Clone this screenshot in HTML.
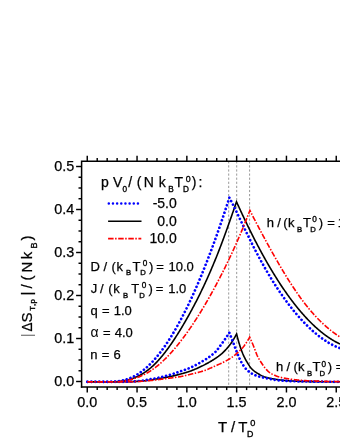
<!DOCTYPE html>
<html><head><meta charset="utf-8"><title>chart</title>
<style>
html,body{margin:0;padding:0;background:#fff;}
body{width:340px;height:440px;overflow:hidden;}
svg{display:block;}
.t{filter:grayscale(1);}
text{font-family:"Liberation Sans",sans-serif;fill:#000;stroke:#000;stroke-width:0.25px;}
.ss{stroke-width:0.35px;}
</style></head><body>
<svg width="340" height="440" viewBox="0 0 340 440">
<rect width="340" height="440" fill="#fff"/>
<!-- vertical guide lines -->
<g stroke="#777" stroke-width="0.75" stroke-dasharray="2.2 1.9" fill="none">
<line x1="228.7" y1="161.2" x2="228.7" y2="387.0"/>
<line x1="236.7" y1="161.2" x2="236.7" y2="387.0"/>
<line x1="249.6" y1="161.2" x2="249.6" y2="387.0"/>
</g>
<!-- curves -->
<g fill="none" stroke-linejoin="miter">
<path d="M87.4,381.80 L100.0,381.79 L100.5,381.80 L101.0,381.80 L101.5,381.80 L102.0,381.80 L102.5,381.80 L103.0,381.80 L103.5,381.80 L104.0,381.80 L104.5,381.80 L105.0,381.80 L105.5,381.80 L106.0,381.80 L106.5,381.80 L107.0,381.80 L107.5,381.80 L108.0,381.80 L108.5,381.80 L109.0,381.80 L109.5,381.80 L110.0,381.80 L110.5,381.80 L111.0,381.80 L111.5,381.80 L112.0,381.80 L112.5,381.80 L113.0,381.80 L113.5,381.80 L114.0,381.80 L114.5,381.80 L115.0,381.79 L115.5,381.76 L116.0,381.72 L116.5,381.68 L117.0,381.64 L117.5,381.60 L118.0,381.55 L118.5,381.50 L119.0,381.45 L119.5,381.39 L120.0,381.33 L120.5,381.27 L121.0,381.20 L121.5,381.13 L122.0,381.05 L122.5,380.97 L123.0,380.89 L123.5,380.80 L124.0,380.71 L124.5,380.61 L125.0,380.51 L125.5,380.41 L126.0,380.30 L126.5,380.19 L127.0,380.07 L127.5,379.95 L128.0,379.82 L128.5,379.69 L129.0,379.55 L129.5,379.41 L130.0,379.26 L130.5,379.11 L131.0,378.95 L131.5,378.79 L132.0,378.63 L132.5,378.45 L133.0,378.27 L133.5,378.09 L134.0,377.90 L134.5,377.71 L135.0,377.51 L135.5,377.30 L136.0,377.09 L136.5,376.87 L137.0,376.64 L137.5,376.41 L138.0,376.18 L138.5,375.93 L139.0,375.68 L139.5,375.43 L140.0,375.16 L140.5,374.89 L141.0,374.62 L141.5,374.34 L142.0,374.05 L142.5,373.75 L143.0,373.45 L143.5,373.14 L144.0,372.82 L144.5,372.49 L145.0,372.16 L145.5,371.82 L146.0,371.47 L146.5,371.12 L147.0,370.76 L147.5,370.39 L148.0,370.01 L148.5,369.63 L149.0,369.23 L149.5,368.83 L150.0,368.42 L150.5,368.01 L151.0,367.58 L151.5,367.15 L152.0,366.71 L152.5,366.25 L153.0,365.80 L153.5,365.33 L154.0,364.85 L154.5,364.37 L155.0,363.88 L155.5,363.38 L156.0,362.87 L156.5,362.35 L157.0,361.83 L157.5,361.29 L158.0,360.75 L158.5,360.21 L159.0,359.65 L159.5,359.09 L160.0,358.52 L160.5,357.94 L161.0,357.35 L161.5,356.76 L162.0,356.16 L162.5,355.55 L163.0,354.94 L163.5,354.31 L164.0,353.69 L164.5,353.05 L165.0,352.41 L165.5,351.76 L166.0,351.10 L166.5,350.44 L167.0,349.77 L167.5,349.09 L168.0,348.41 L168.5,347.72 L169.0,347.03 L169.5,346.33 L170.0,345.62 L170.5,344.91 L171.0,344.19 L171.5,343.46 L172.0,342.73 L172.5,341.99 L173.0,341.25 L173.5,340.50 L174.0,339.75 L174.5,338.99 L175.0,338.22 L175.5,337.45 L176.0,336.68 L176.5,335.90 L177.0,335.11 L177.5,334.32 L178.0,333.52 L178.5,332.72 L179.0,331.91 L179.5,331.10 L180.0,330.29 L180.5,329.47 L181.0,328.64 L181.5,327.81 L182.0,326.98 L182.5,326.14 L183.0,325.30 L183.5,324.45 L184.0,323.60 L184.5,322.74 L185.0,321.88 L185.5,321.02 L186.0,320.15 L186.5,319.27 L187.0,318.40 L187.5,317.51 L188.0,316.63 L188.5,315.74 L189.0,314.84 L189.5,313.94 L190.0,313.03 L190.5,312.12 L191.0,311.20 L191.5,310.28 L192.0,309.36 L192.5,308.43 L193.0,307.49 L193.5,306.55 L194.0,305.60 L194.5,304.65 L195.0,303.69 L195.5,302.73 L196.0,301.76 L196.5,300.79 L197.0,299.81 L197.5,298.82 L198.0,297.83 L198.5,296.83 L199.0,295.83 L199.5,294.82 L200.0,293.81 L200.5,292.79 L201.0,291.76 L201.5,290.73 L202.0,289.69 L202.5,288.65 L203.0,287.60 L203.5,286.54 L204.0,285.48 L204.5,284.41 L205.0,283.33 L205.5,282.25 L206.0,281.16 L206.5,280.07 L207.0,278.96 L207.5,277.85 L208.0,276.74 L208.5,275.62 L209.0,274.49 L209.5,273.35 L210.0,272.21 L210.5,271.06 L211.0,269.90 L211.5,268.74 L212.0,267.56 L212.5,266.39 L213.0,265.20 L213.5,264.01 L214.0,262.81 L214.5,261.60 L215.0,260.38 L215.5,259.16 L216.0,257.93 L216.5,256.69 L217.0,255.44 L217.5,254.19 L218.0,252.93 L218.5,251.66 L219.0,250.38 L219.5,249.10 L220.0,247.80 L220.5,246.50 L221.0,245.19 L221.5,243.87 L222.0,242.55 L222.5,241.22 L223.0,239.88 L223.5,238.53 L224.0,237.17 L224.5,235.81 L225.0,234.45 L225.5,233.07 L226.0,231.69 L226.5,230.31 L227.0,228.92 L227.5,227.52 L228.0,226.12 L228.5,224.72 L229.0,223.31 L229.5,221.89 L230.0,220.47 L230.5,219.05 L231.0,217.63 L231.5,216.20 L232.0,214.77 L232.5,213.34 L233.0,211.90 L233.5,210.46 L234.0,209.02 L234.5,207.58 L235.0,206.13 L235.5,204.69 L236.0,203.24 L236.5,201.80 L237.0,202.90 L237.5,204.00 L238.0,205.09 L238.5,206.18 L239.0,207.27 L239.5,208.36 L240.0,209.44 L240.5,210.52 L241.0,211.60 L241.5,212.67 L242.0,213.74 L242.5,214.81 L243.0,215.87 L243.5,216.93 L244.0,217.99 L244.5,219.04 L245.0,220.09 L245.5,221.14 L246.0,222.18 L246.5,223.22 L247.0,224.25 L247.5,225.28 L248.0,226.31 L248.5,227.33 L249.0,228.35 L249.5,229.37 L250.0,230.38 L250.5,231.39 L251.0,232.40 L251.5,233.40 L252.0,234.39 L252.5,235.39 L253.0,236.38 L253.5,237.36 L254.0,238.34 L254.5,239.32 L255.0,240.29 L255.5,241.26 L256.0,242.23 L256.5,243.19 L257.0,244.15 L257.5,245.10 L258.0,246.05 L258.5,246.99 L259.0,247.93 L259.5,248.87 L260.0,249.80 L260.5,250.73 L261.0,251.65 L261.5,252.58 L262.0,253.49 L262.5,254.40 L263.0,255.31 L263.5,256.21 L264.0,257.11 L264.5,258.01 L265.0,258.90 L265.5,259.79 L266.0,260.67 L266.5,261.55 L267.0,262.42 L267.5,263.29 L268.0,264.16 L268.5,265.02 L269.0,265.88 L269.5,266.73 L270.0,267.58 L270.5,268.43 L271.0,269.27 L271.5,270.11 L272.0,270.94 L272.5,271.77 L273.0,272.59 L273.5,273.41 L274.0,274.23 L274.5,275.04 L275.0,275.85 L275.5,276.65 L276.0,277.45 L276.5,278.24 L277.0,279.03 L277.5,279.82 L278.0,280.60 L278.5,281.38 L279.0,282.15 L279.5,282.92 L280.0,283.69 L280.5,284.45 L281.0,285.21 L281.5,285.96 L282.0,286.71 L282.5,287.45 L283.0,288.19 L283.5,288.93 L284.0,289.66 L284.5,290.39 L285.0,291.11 L285.5,291.83 L286.0,292.54 L286.5,293.26 L287.0,293.96 L287.5,294.66 L288.0,295.36 L288.5,296.05 L289.0,296.74 L289.5,297.43 L290.0,298.11 L290.5,298.78 L291.0,299.46 L291.5,300.12 L292.0,300.79 L292.5,301.45 L293.0,302.10 L293.5,302.75 L294.0,303.40 L294.5,304.04 L295.0,304.67 L295.5,305.31 L296.0,305.94 L296.5,306.56 L297.0,307.18 L297.5,307.80 L298.0,308.41 L298.5,309.01 L299.0,309.62 L299.5,310.22 L300.0,310.81 L300.5,311.40 L301.0,311.98 L301.5,312.57 L302.0,313.14 L302.5,313.71 L303.0,314.28 L303.5,314.84 L304.0,315.40 L304.5,315.96 L305.0,316.51 L305.5,317.05 L306.0,317.60 L306.5,318.13 L307.0,318.66 L307.5,319.19 L308.0,319.72 L308.5,320.24 L309.0,320.75 L309.5,321.26 L310.0,321.77 L310.5,322.27 L311.0,322.77 L311.5,323.26 L312.0,323.75 L312.5,324.23 L313.0,324.71 L313.5,325.19 L314.0,325.66 L314.5,326.12 L315.0,326.59 L315.5,327.04 L316.0,327.50 L316.5,327.95 L317.0,328.39 L317.5,328.83 L318.0,329.26 L318.5,329.70 L319.0,330.12 L319.5,330.54 L320.0,330.96 L320.5,331.38 L321.0,331.78 L321.5,332.19 L322.0,332.59 L322.5,332.98 L323.0,333.38 L323.5,333.76 L324.0,334.15 L324.5,334.52 L325.0,334.90 L325.5,335.27 L326.0,335.63 L326.5,335.99 L327.0,336.35 L327.5,336.70 L328.0,337.05 L328.5,337.39 L329.0,337.73 L329.5,338.06 L330.0,338.39 L330.5,338.72 L331.0,339.04 L331.5,339.35 L332.0,339.67 L332.5,339.97 L333.0,340.28 L333.5,340.58 L334.0,340.87 L334.5,341.16 L335.0,341.45 L335.5,341.73 L336.0,342.01 L336.5,342.28 L337.0,342.55 L337.5,342.81 L338.0,343.07 L338.5,343.32 L339.0,343.58 L339.5,343.82 L340.0,344.06" stroke="#000" stroke-width="1.6"/>
<path d="M87.4,381.80 L87.9,381.80 L88.4,381.80 L88.9,381.80 L89.4,381.80 L89.9,381.80 L90.4,381.80 L90.9,381.80 L91.4,381.80 L91.9,381.80 L92.4,381.80 L92.9,381.80 L93.4,381.80 L93.9,381.80 L94.4,381.80 L94.9,381.80 L95.4,381.80 L95.9,381.80 L96.4,381.80 L96.9,381.80 L97.4,381.80 L97.9,381.80 L98.4,381.80 L98.9,381.80 L99.4,381.80 L99.9,381.80 L100.4,381.80 L100.9,381.80 L101.4,381.80 L101.9,381.80 L102.4,381.80 L102.9,381.80 L103.4,381.80 L103.9,381.80 L104.4,381.80 L104.9,381.80 L105.4,381.80 L105.9,381.80 L106.4,381.80 L106.9,381.80 L107.4,381.80 L107.9,381.80 L108.4,381.80 L108.9,381.80 L109.4,381.80 L109.9,381.80 L110.4,381.80 L110.9,381.80 L111.4,381.80 L111.9,381.80 L112.4,381.80 L112.9,381.80 L113.4,381.80 L113.9,381.80 L114.4,381.80 L114.9,381.80 L115.4,381.80 L115.9,381.80 L116.4,381.80 L116.9,381.80 L117.4,381.80 L117.9,381.80 L118.4,381.80 L118.9,381.80 L119.4,381.80 L119.9,381.80 L120.4,381.80 L120.9,381.80 L121.4,381.80 L121.9,381.80 L122.4,381.79 L122.9,381.79 L123.4,381.79 L123.9,381.78 L124.4,381.78 L124.9,381.77 L125.4,381.77 L125.9,381.76 L126.4,381.75 L126.9,381.75 L127.4,381.74 L127.9,381.73 L128.4,381.73 L128.9,381.72 L129.4,381.71 L129.9,381.70 L130.4,381.69 L130.9,381.68 L131.4,381.67 L131.9,381.65 L132.4,381.63 L132.9,381.61 L133.4,381.59 L133.9,381.57 L134.4,381.55 L134.9,381.52 L135.4,381.49 L135.9,381.46 L136.4,381.44 L136.9,381.40 L137.4,381.37 L137.9,381.34 L138.4,381.31 L138.9,381.27 L139.4,381.24 L139.9,381.21 L140.4,381.17 L140.9,381.13 L141.4,381.09 L141.9,381.05 L142.4,381.00 L142.9,380.96 L143.4,380.91 L143.9,380.85 L144.4,380.80 L144.9,380.74 L145.4,380.68 L145.9,380.63 L146.4,380.56 L146.9,380.50 L147.4,380.44 L147.9,380.38 L148.4,380.31 L148.9,380.25 L149.4,380.18 L149.9,380.11 L150.4,380.05 L150.9,379.97 L151.4,379.90 L151.9,379.82 L152.4,379.74 L152.9,379.66 L153.4,379.58 L153.9,379.49 L154.4,379.41 L154.9,379.32 L155.4,379.23 L155.9,379.14 L156.4,379.05 L156.9,378.96 L157.4,378.87 L157.9,378.78 L158.4,378.69 L158.9,378.60 L159.4,378.51 L159.9,378.42 L160.4,378.33 L160.9,378.24 L161.4,378.16 L161.9,378.07 L162.4,377.99 L162.9,377.90 L163.4,377.82 L163.9,377.73 L164.4,377.64 L164.9,377.56 L165.4,377.47 L165.9,377.38 L166.4,377.29 L166.9,377.20 L167.4,377.11 L167.9,377.01 L168.4,376.92 L168.9,376.82 L169.4,376.72 L169.9,376.62 L170.4,376.52 L170.9,376.41 L171.4,376.30 L171.9,376.19 L172.4,376.08 L172.9,375.97 L173.4,375.86 L173.9,375.74 L174.4,375.62 L174.9,375.50 L175.4,375.38 L175.9,375.26 L176.4,375.13 L176.9,375.01 L177.4,374.88 L177.9,374.75 L178.4,374.62 L178.9,374.49 L179.4,374.36 L179.9,374.23 L180.4,374.09 L180.9,373.96 L181.4,373.82 L181.9,373.69 L182.4,373.55 L182.9,373.41 L183.4,373.27 L183.9,373.13 L184.4,372.98 L184.9,372.84 L185.4,372.69 L185.9,372.54 L186.4,372.38 L186.9,372.23 L187.4,372.07 L187.9,371.91 L188.4,371.75 L188.9,371.58 L189.4,371.41 L189.9,371.24 L190.4,371.06 L190.9,370.88 L191.4,370.69 L191.9,370.50 L192.4,370.31 L192.9,370.11 L193.4,369.92 L193.9,369.71 L194.4,369.51 L194.9,369.30 L195.4,369.08 L195.9,368.87 L196.4,368.65 L196.9,368.43 L197.4,368.21 L197.9,367.98 L198.4,367.75 L198.9,367.52 L199.4,367.29 L199.9,367.05 L200.4,366.82 L200.9,366.58 L201.4,366.34 L201.9,366.09 L202.4,365.85 L202.9,365.60 L203.4,365.35 L203.9,365.10 L204.4,364.85 L204.9,364.59 L205.4,364.33 L205.9,364.07 L206.4,363.80 L206.9,363.53 L207.4,363.26 L207.9,362.99 L208.4,362.71 L208.9,362.42 L209.4,362.14 L209.9,361.85 L210.4,361.56 L210.9,361.26 L211.4,360.96 L211.9,360.66 L212.4,360.35 L212.9,360.04 L213.4,359.73 L213.9,359.41 L214.4,359.09 L214.9,358.77 L215.4,358.44 L215.9,358.10 L216.4,357.76 L216.9,357.42 L217.4,357.07 L217.9,356.71 L218.4,356.35 L218.9,355.97 L219.4,355.59 L219.9,355.20 L220.4,354.80 L220.9,354.40 L221.4,353.98 L221.9,353.54 L222.4,353.10 L222.9,352.64 L223.4,352.17 L223.9,351.68 L224.4,351.18 L224.9,350.66 L225.4,350.13 L225.9,349.58 L226.4,349.03 L226.9,348.45 L227.4,347.87 L227.9,347.27 L228.4,346.66 L228.9,346.04 L229.4,345.41 L229.9,344.77 L230.4,344.11 L230.9,343.41 L231.4,342.70 L231.9,341.96 L232.4,341.20 L232.9,340.41 L233.4,339.61 L233.9,338.80 L234.4,337.96 L234.9,337.09 L235.4,336.19 L235.9,335.25 L236.4,334.29 L236.6,333.90 L237.1,335.91 L237.6,337.85 L238.1,339.72 L238.6,341.52 L239.1,343.22 L239.6,344.83 L240.1,346.39 L240.6,347.89 L241.1,349.34 L241.6,350.73 L242.1,352.06 L242.6,353.32 L243.1,354.50 L243.6,355.62 L244.1,356.69 L244.6,357.70 L245.1,358.68 L245.6,359.61 L246.1,360.51 L246.6,361.36 L247.1,362.20 L247.6,363.02 L248.1,363.83 L248.6,364.63 L249.1,365.40 L249.6,366.14 L250.1,366.84 L250.6,367.51 L251.1,368.12 L251.6,368.69 L252.1,369.20 L252.6,369.68 L253.1,370.13 L253.6,370.56 L254.1,370.97 L254.6,371.36 L255.1,371.73 L255.6,372.08 L256.1,372.42 L256.6,372.75 L257.1,373.07 L257.6,373.38 L258.1,373.68 L258.6,373.98 L259.1,374.27 L259.6,374.56 L260.1,374.84 L260.6,375.12 L261.1,375.38 L261.6,375.64 L262.1,375.88 L262.6,376.11 L263.1,376.33 L263.6,376.54 L264.1,376.73 L264.6,376.90 L265.1,377.06 L265.6,377.21 L266.1,377.35 L266.6,377.49 L267.1,377.63 L267.6,377.76 L268.1,377.88 L268.6,378.00 L269.1,378.11 L269.6,378.22 L270.1,378.33 L270.6,378.43 L271.1,378.53 L271.6,378.63 L272.1,378.72 L272.6,378.81 L273.1,378.89 L273.6,378.98 L274.1,379.06 L274.6,379.14 L275.1,379.22 L275.6,379.29 L276.1,379.37 L276.6,379.44 L277.1,379.51 L277.6,379.59 L278.1,379.66 L278.6,379.73 L279.1,379.80 L279.6,379.86 L280.1,379.93 L280.6,380.00 L281.1,380.06 L281.6,380.12 L282.1,380.18 L282.6,380.24 L283.1,380.30 L283.6,380.36 L284.1,380.41 L284.6,380.47 L285.1,380.52 L285.6,380.57 L286.1,380.61 L286.6,380.66 L287.1,380.70 L287.6,380.74 L288.1,380.78 L288.6,380.81 L289.1,380.85 L289.6,380.88 L290.1,380.91 L290.6,380.93 L291.1,380.96 L291.6,380.99 L292.1,381.01 L292.6,381.04 L293.1,381.06 L293.6,381.09 L294.1,381.11 L294.6,381.13 L295.1,381.16 L295.6,381.18 L296.1,381.20 L296.6,381.22 L297.1,381.25 L297.6,381.27 L298.1,381.29 L298.6,381.31 L299.1,381.33 L299.6,381.34 L300.1,381.36 L300.6,381.38 L301.1,381.40 L301.6,381.41 L302.1,381.43 L302.6,381.45 L303.1,381.46 L303.6,381.47 L304.1,381.49 L304.6,381.50 L305.1,381.51 L305.6,381.52 L306.1,381.54 L306.6,381.55 L307.1,381.56 L307.6,381.57 L308.1,381.57 L308.6,381.58 L309.1,381.59 L309.6,381.60 L310.1,381.60 L310.6,381.61 L311.1,381.61 L311.6,381.62 L312.1,381.62 L312.6,381.63 L313.1,381.63 L313.6,381.64 L314.1,381.64 L314.6,381.65 L315.1,381.65 L315.6,381.66 L316.1,381.66 L316.6,381.67 L317.1,381.67 L317.6,381.68 L318.1,381.68 L318.6,381.69 L319.1,381.69 L319.6,381.70 L320.1,381.70 L320.6,381.70 L321.1,381.71 L321.6,381.71 L322.1,381.72 L322.6,381.72 L323.1,381.72 L323.6,381.73 L324.1,381.73 L324.6,381.74 L325.1,381.74 L325.6,381.74 L326.1,381.75 L326.6,381.75 L327.1,381.75 L327.6,381.75 L328.1,381.76 L328.6,381.76 L329.1,381.76 L329.6,381.77 L330.1,381.77 L330.6,381.77 L331.1,381.77 L331.6,381.78 L332.1,381.78 L332.6,381.78 L333.1,381.78 L333.6,381.78 L334.1,381.79 L334.6,381.79 L335.1,381.79 L335.6,381.79 L336.1,381.79 L336.6,381.79 L337.1,381.79 L337.6,381.80 L338.1,381.80 L338.6,381.80 L339.1,381.80 L339.6,381.80 L340.1,381.80 L340.6,381.80 L341.1,381.80 L341.6,381.80 L342.0,381.80" stroke="#000" stroke-width="1.6"/>
<path d="M87.4,381.80 L100.0,381.76 L100.5,381.79 L101.0,381.80 L101.5,381.80 L102.0,381.80 L102.5,381.80 L103.0,381.80 L103.5,381.80 L104.0,381.80 L104.5,381.80 L105.0,381.80 L105.5,381.80 L106.0,381.80 L106.5,381.80 L107.0,381.80 L107.5,381.80 L108.0,381.80 L108.5,381.80 L109.0,381.80 L109.5,381.80 L110.0,381.80 L110.5,381.80 L111.0,381.80 L111.5,381.80 L112.0,381.80 L112.5,381.80 L113.0,381.80 L113.5,381.80 L114.0,381.79 L114.5,381.75 L115.0,381.71 L115.5,381.66 L116.0,381.61 L116.5,381.55 L117.0,381.49 L117.5,381.43 L118.0,381.36 L118.5,381.29 L119.0,381.21 L119.5,381.13 L120.0,381.04 L120.5,380.95 L121.0,380.86 L121.5,380.76 L122.0,380.65 L122.5,380.54 L123.0,380.42 L123.5,380.30 L124.0,380.17 L124.5,380.04 L125.0,379.90 L125.5,379.75 L126.0,379.60 L126.5,379.44 L127.0,379.28 L127.5,379.11 L128.0,378.94 L128.5,378.75 L129.0,378.56 L129.5,378.37 L130.0,378.17 L130.5,377.96 L131.0,377.74 L131.5,377.52 L132.0,377.29 L132.5,377.06 L133.0,376.81 L133.5,376.56 L134.0,376.31 L134.5,376.04 L135.0,375.77 L135.5,375.49 L136.0,375.21 L136.5,374.92 L137.0,374.62 L137.5,374.31 L138.0,374.00 L138.5,373.67 L139.0,373.35 L139.5,373.01 L140.0,372.67 L140.5,372.32 L141.0,371.96 L141.5,371.59 L142.0,371.22 L142.5,370.84 L143.0,370.45 L143.5,370.05 L144.0,369.65 L144.5,369.24 L145.0,368.82 L145.5,368.39 L146.0,367.96 L146.5,367.52 L147.0,367.07 L147.5,366.61 L148.0,366.15 L148.5,365.67 L149.0,365.19 L149.5,364.71 L150.0,364.21 L150.5,363.71 L151.0,363.20 L151.5,362.68 L152.0,362.16 L152.5,361.62 L153.0,361.08 L153.5,360.54 L154.0,359.98 L154.5,359.42 L155.0,358.85 L155.5,358.27 L156.0,357.69 L156.5,357.09 L157.0,356.49 L157.5,355.89 L158.0,355.27 L158.5,354.65 L159.0,354.02 L159.5,353.39 L160.0,352.74 L160.5,352.09 L161.0,351.43 L161.5,350.77 L162.0,350.10 L162.5,349.42 L163.0,348.73 L163.5,348.03 L164.0,347.33 L164.5,346.62 L165.0,345.91 L165.5,345.18 L166.0,344.45 L166.5,343.72 L167.0,342.97 L167.5,342.22 L168.0,341.46 L168.5,340.70 L169.0,339.92 L169.5,339.14 L170.0,338.36 L170.5,337.56 L171.0,336.76 L171.5,335.95 L172.0,335.14 L172.5,334.31 L173.0,333.49 L173.5,332.65 L174.0,331.81 L174.5,330.96 L175.0,330.10 L175.5,329.24 L176.0,328.36 L176.5,327.49 L177.0,326.60 L177.5,325.71 L178.0,324.81 L178.5,323.91 L179.0,323.00 L179.5,322.08 L180.0,321.15 L180.5,320.22 L181.0,319.28 L181.5,318.33 L182.0,317.38 L182.5,316.42 L183.0,315.46 L183.5,314.48 L184.0,313.50 L184.5,312.52 L185.0,311.52 L185.5,310.52 L186.0,309.52 L186.5,308.50 L187.0,307.48 L187.5,306.46 L188.0,305.42 L188.5,304.38 L189.0,303.34 L189.5,302.28 L190.0,301.22 L190.5,300.16 L191.0,299.09 L191.5,298.01 L192.0,296.92 L192.5,295.83 L193.0,294.73 L193.5,293.62 L194.0,292.51 L194.5,291.39 L195.0,290.27 L195.5,289.13 L196.0,287.99 L196.5,286.85 L197.0,285.70 L197.5,284.54 L198.0,283.38 L198.5,282.20 L199.0,281.03 L199.5,279.84 L200.0,278.65 L200.5,277.46 L201.0,276.25 L201.5,275.04 L202.0,273.83 L202.5,272.60 L203.0,271.37 L203.5,270.14 L204.0,268.90 L204.5,267.65 L205.0,266.39 L205.5,265.13 L206.0,263.87 L206.5,262.59 L207.0,261.31 L207.5,260.03 L208.0,258.73 L208.5,257.43 L209.0,256.13 L209.5,254.82 L210.0,253.50 L210.5,252.18 L211.0,250.84 L211.5,249.51 L212.0,248.17 L212.5,246.82 L213.0,245.46 L213.5,244.10 L214.0,242.73 L214.5,241.36 L215.0,239.98 L215.5,238.59 L216.0,237.20 L216.5,235.80 L217.0,234.39 L217.5,232.98 L218.0,231.57 L218.5,230.14 L219.0,228.71 L219.5,227.28 L220.0,225.83 L220.5,224.39 L221.0,222.93 L221.5,221.47 L222.0,220.01 L222.5,218.53 L223.0,217.06 L223.5,215.57 L224.0,214.08 L224.5,212.58 L225.0,211.08 L225.5,209.57 L226.0,208.06 L226.5,206.54 L227.0,205.01 L227.5,203.48 L228.0,201.94 L228.5,200.39 L229.0,198.84 L229.4,197.60 L229.9,198.56 L230.4,199.53 L230.9,200.50 L231.4,201.49 L231.9,202.48 L232.4,203.48 L232.9,204.48 L233.4,205.49 L233.9,206.50 L234.4,207.52 L234.9,208.54 L235.4,209.57 L235.9,210.60 L236.4,211.63 L236.9,212.67 L237.4,213.70 L237.9,214.74 L238.4,215.78 L238.9,216.83 L239.4,217.87 L239.9,218.91 L240.4,219.95 L240.9,221.00 L241.4,222.04 L241.9,223.08 L242.4,224.13 L242.9,225.17 L243.4,226.21 L243.9,227.25 L244.4,228.29 L244.9,229.32 L245.4,230.36 L245.9,231.39 L246.4,232.42 L246.9,233.44 L247.4,234.47 L247.9,235.49 L248.4,236.51 L248.9,237.53 L249.4,238.54 L249.9,239.55 L250.4,240.55 L250.9,241.56 L251.4,242.55 L251.9,243.55 L252.4,244.54 L252.9,245.53 L253.4,246.51 L253.9,247.49 L254.4,248.47 L254.9,249.44 L255.4,250.41 L255.9,251.37 L256.4,252.33 L256.9,253.28 L257.4,254.23 L257.9,255.18 L258.4,256.12 L258.9,257.05 L259.4,257.99 L259.9,258.91 L260.4,259.83 L260.9,260.75 L261.4,261.66 L261.9,262.57 L262.4,263.48 L262.9,264.37 L263.4,265.27 L263.9,266.16 L264.4,267.04 L264.9,267.92 L265.4,268.80 L265.9,269.67 L266.4,270.53 L266.9,271.39 L267.4,272.25 L267.9,273.10 L268.4,273.94 L268.9,274.78 L269.4,275.62 L269.9,276.45 L270.4,277.28 L270.9,278.10 L271.4,278.92 L271.9,279.73 L272.4,280.54 L272.9,281.34 L273.4,282.14 L273.9,282.93 L274.4,283.72 L274.9,284.51 L275.4,285.29 L275.9,286.06 L276.4,286.83 L276.9,287.60 L277.4,288.36 L277.9,289.11 L278.4,289.87 L278.9,290.61 L279.4,291.36 L279.9,292.09 L280.4,292.83 L280.9,293.56 L281.4,294.28 L281.9,295.00 L282.4,295.72 L282.9,296.43 L283.4,297.13 L283.9,297.84 L284.4,298.53 L284.9,299.23 L285.4,299.92 L285.9,300.60 L286.4,301.28 L286.9,301.96 L287.4,302.63 L287.9,303.29 L288.4,303.96 L288.9,304.61 L289.4,305.27 L289.9,305.92 L290.4,306.56 L290.9,307.20 L291.4,307.84 L291.9,308.47 L292.4,309.10 L292.9,309.72 L293.4,310.34 L293.9,310.95 L294.4,311.56 L294.9,312.17 L295.4,312.77 L295.9,313.37 L296.4,313.96 L296.9,314.55 L297.4,315.13 L297.9,315.71 L298.4,316.29 L298.9,316.86 L299.4,317.43 L299.9,317.99 L300.4,318.55 L300.9,319.10 L301.4,319.65 L301.9,320.19 L302.4,320.73 L302.9,321.27 L303.4,321.80 L303.9,322.33 L304.4,322.85 L304.9,323.37 L305.4,323.89 L305.9,324.40 L306.4,324.90 L306.9,325.40 L307.4,325.90 L307.9,326.39 L308.4,326.88 L308.9,327.36 L309.4,327.84 L309.9,328.31 L310.4,328.78 L310.9,329.25 L311.4,329.71 L311.9,330.17 L312.4,330.62 L312.9,331.07 L313.4,331.51 L313.9,331.95 L314.4,332.38 L314.9,332.81 L315.4,333.23 L315.9,333.65 L316.4,334.07 L316.9,334.48 L317.4,334.88 L317.9,335.29 L318.4,335.68 L318.9,336.08 L319.4,336.46 L319.9,336.85 L320.4,337.22 L320.9,337.60 L321.4,337.97 L321.9,338.33 L322.4,338.69 L322.9,339.04 L323.4,339.39 L323.9,339.74 L324.4,340.08 L324.9,340.41 L325.4,340.74 L325.9,341.07 L326.4,341.39 L326.9,341.71 L327.4,342.02 L327.9,342.32 L328.4,342.62 L328.9,342.92 L329.4,343.21 L329.9,343.50 L330.4,343.78 L330.9,344.06 L331.4,344.33 L331.9,344.59 L332.4,344.85 L332.9,345.11 L333.4,345.36 L333.9,345.61 L334.4,345.85 L334.9,346.08 L335.4,346.32 L335.9,346.54 L336.4,346.76 L336.9,346.98 L337.4,347.19 L337.9,347.39 L338.4,347.59 L338.9,347.78 L339.4,347.97 L339.9,348.15 L340.0,348.19" stroke="#0000ff" stroke-width="2.7" stroke-dasharray="0.01 3.95" stroke-linecap="round"/>
<path d="M87.4,381.80 L87.9,381.80 L88.4,381.80 L88.9,381.80 L89.4,381.80 L89.9,381.80 L90.4,381.80 L90.9,381.80 L91.4,381.80 L91.9,381.80 L92.4,381.80 L92.9,381.80 L93.4,381.80 L93.9,381.80 L94.4,381.80 L94.9,381.80 L95.4,381.80 L95.9,381.80 L96.4,381.80 L96.9,381.80 L97.4,381.80 L97.9,381.80 L98.4,381.80 L98.9,381.80 L99.4,381.80 L99.9,381.80 L100.4,381.80 L100.9,381.80 L101.4,381.80 L101.9,381.80 L102.4,381.80 L102.9,381.80 L103.4,381.80 L103.9,381.80 L104.4,381.80 L104.9,381.80 L105.4,381.80 L105.9,381.80 L106.4,381.80 L106.9,381.80 L107.4,381.80 L107.9,381.80 L108.4,381.80 L108.9,381.80 L109.4,381.80 L109.9,381.80 L110.4,381.80 L110.9,381.80 L111.4,381.80 L111.9,381.80 L112.4,381.80 L112.9,381.80 L113.4,381.80 L113.9,381.80 L114.4,381.80 L114.9,381.80 L115.4,381.80 L115.9,381.80 L116.4,381.80 L116.9,381.80 L117.4,381.80 L117.9,381.80 L118.4,381.80 L118.9,381.80 L119.4,381.80 L119.9,381.80 L120.4,381.80 L120.9,381.80 L121.4,381.79 L121.9,381.79 L122.4,381.78 L122.9,381.78 L123.4,381.77 L123.9,381.76 L124.4,381.75 L124.9,381.74 L125.4,381.73 L125.9,381.72 L126.4,381.70 L126.9,381.69 L127.4,381.68 L127.9,381.66 L128.4,381.65 L128.9,381.63 L129.4,381.62 L129.9,381.60 L130.4,381.59 L130.9,381.57 L131.4,381.55 L131.9,381.52 L132.4,381.50 L132.9,381.47 L133.4,381.44 L133.9,381.41 L134.4,381.38 L134.9,381.34 L135.4,381.30 L135.9,381.26 L136.4,381.22 L136.9,381.18 L137.4,381.14 L137.9,381.10 L138.4,381.05 L138.9,381.01 L139.4,380.96 L139.9,380.91 L140.4,380.86 L140.9,380.80 L141.4,380.74 L141.9,380.68 L142.4,380.61 L142.9,380.54 L143.4,380.46 L143.9,380.38 L144.4,380.30 L144.9,380.21 L145.4,380.13 L145.9,380.04 L146.4,379.95 L146.9,379.86 L147.4,379.77 L147.9,379.68 L148.4,379.58 L148.9,379.49 L149.4,379.41 L149.9,379.32 L150.4,379.23 L150.9,379.14 L151.4,379.06 L151.9,378.97 L152.4,378.88 L152.9,378.79 L153.4,378.70 L153.9,378.61 L154.4,378.52 L154.9,378.43 L155.4,378.33 L155.9,378.24 L156.4,378.14 L156.9,378.04 L157.4,377.94 L157.9,377.84 L158.4,377.74 L158.9,377.64 L159.4,377.53 L159.9,377.42 L160.4,377.31 L160.9,377.20 L161.4,377.08 L161.9,376.97 L162.4,376.85 L162.9,376.72 L163.4,376.60 L163.9,376.47 L164.4,376.35 L164.9,376.22 L165.4,376.08 L165.9,375.95 L166.4,375.82 L166.9,375.68 L167.4,375.54 L167.9,375.40 L168.4,375.26 L168.9,375.12 L169.4,374.97 L169.9,374.83 L170.4,374.68 L170.9,374.53 L171.4,374.38 L171.9,374.23 L172.4,374.07 L172.9,373.91 L173.4,373.75 L173.9,373.59 L174.4,373.42 L174.9,373.26 L175.4,373.09 L175.9,372.92 L176.4,372.75 L176.9,372.58 L177.4,372.40 L177.9,372.23 L178.4,372.06 L178.9,371.88 L179.4,371.71 L179.9,371.53 L180.4,371.36 L180.9,371.19 L181.4,371.01 L181.9,370.84 L182.4,370.67 L182.9,370.49 L183.4,370.32 L183.9,370.14 L184.4,369.97 L184.9,369.79 L185.4,369.61 L185.9,369.43 L186.4,369.24 L186.9,369.05 L187.4,368.86 L187.9,368.66 L188.4,368.47 L188.9,368.26 L189.4,368.06 L189.9,367.84 L190.4,367.63 L190.9,367.41 L191.4,367.18 L191.9,366.95 L192.4,366.72 L192.9,366.48 L193.4,366.24 L193.9,366.00 L194.4,365.75 L194.9,365.50 L195.4,365.24 L195.9,364.98 L196.4,364.72 L196.9,364.45 L197.4,364.18 L197.9,363.91 L198.4,363.63 L198.9,363.35 L199.4,363.07 L199.9,362.78 L200.4,362.50 L200.9,362.20 L201.4,361.91 L201.9,361.61 L202.4,361.31 L202.9,361.01 L203.4,360.71 L203.9,360.40 L204.4,360.10 L204.9,359.79 L205.4,359.48 L205.9,359.17 L206.4,358.85 L206.9,358.53 L207.4,358.21 L207.9,357.88 L208.4,357.54 L208.9,357.20 L209.4,356.85 L209.9,356.50 L210.4,356.13 L210.9,355.76 L211.4,355.37 L211.9,354.98 L212.4,354.58 L212.9,354.17 L213.4,353.74 L213.9,353.31 L214.4,352.86 L214.9,352.39 L215.4,351.91 L215.9,351.38 L216.4,350.82 L216.9,350.22 L217.4,349.60 L217.9,348.96 L218.4,348.29 L218.9,347.61 L219.4,346.92 L219.9,346.23 L220.4,345.54 L220.9,344.85 L221.4,344.17 L221.9,343.50 L222.4,342.82 L222.9,342.14 L223.4,341.45 L223.9,340.75 L224.4,340.05 L224.9,339.34 L225.4,338.62 L225.9,337.89 L226.4,337.16 L226.9,336.41 L227.4,335.66 L227.9,334.89 L228.4,334.12 L228.9,333.33 L229.3,332.70 L229.8,333.92 L230.3,335.16 L230.8,336.40 L231.3,337.65 L231.8,338.91 L232.3,340.18 L232.8,341.46 L233.3,342.77 L233.8,344.11 L234.3,345.48 L234.8,346.85 L235.3,348.21 L235.8,349.55 L236.3,350.86 L236.8,352.13 L237.3,353.34 L237.8,354.53 L238.3,355.70 L238.8,356.87 L239.3,358.00 L239.8,359.10 L240.3,360.15 L240.8,361.15 L241.3,362.08 L241.8,362.94 L242.3,363.77 L242.8,364.58 L243.3,365.36 L243.8,366.11 L244.3,366.83 L244.8,367.52 L245.3,368.16 L245.8,368.75 L246.3,369.30 L246.8,369.80 L247.3,370.26 L247.8,370.70 L248.3,371.12 L248.8,371.52 L249.3,371.90 L249.8,372.27 L250.3,372.61 L250.8,372.94 L251.3,373.26 L251.8,373.55 L252.3,373.83 L252.8,374.10 L253.3,374.35 L253.8,374.59 L254.3,374.82 L254.8,375.03 L255.3,375.24 L255.8,375.44 L256.3,375.63 L256.8,375.81 L257.3,375.98 L257.8,376.14 L258.3,376.30 L258.8,376.45 L259.3,376.60 L259.8,376.74 L260.3,376.87 L260.8,377.00 L261.3,377.12 L261.8,377.24 L262.3,377.35 L262.8,377.46 L263.3,377.57 L263.8,377.68 L264.3,377.78 L264.8,377.88 L265.3,377.98 L265.8,378.08 L266.3,378.19 L266.8,378.29 L267.3,378.40 L267.8,378.50 L268.3,378.61 L268.8,378.71 L269.3,378.82 L269.8,378.92 L270.3,379.03 L270.8,379.13 L271.3,379.23 L271.8,379.33 L272.3,379.42 L272.8,379.52 L273.3,379.61 L273.8,379.70 L274.3,379.79 L274.8,379.87 L275.3,379.95 L275.8,380.03 L276.3,380.10 L276.8,380.17 L277.3,380.24 L277.8,380.30 L278.3,380.35 L278.8,380.40 L279.3,380.45 L279.8,380.49 L280.3,380.52 L280.8,380.55 L281.3,380.59 L281.8,380.62 L282.3,380.65 L282.8,380.68 L283.3,380.71 L283.8,380.74 L284.3,380.77 L284.8,380.80 L285.3,380.83 L285.8,380.86 L286.3,380.88 L286.8,380.91 L287.3,380.94 L287.8,380.96 L288.3,380.98 L288.8,381.01 L289.3,381.03 L289.8,381.06 L290.3,381.08 L290.8,381.10 L291.3,381.12 L291.8,381.14 L292.3,381.16 L292.8,381.18 L293.3,381.20 L293.8,381.22 L294.3,381.24 L294.8,381.25 L295.3,381.27 L295.8,381.29 L296.3,381.30 L296.8,381.32 L297.3,381.33 L297.8,381.35 L298.3,381.36 L298.8,381.38 L299.3,381.39 L299.8,381.40 L300.3,381.41 L300.8,381.42 L301.3,381.43 L301.8,381.45 L302.3,381.46 L302.8,381.46 L303.3,381.47 L303.8,381.48 L304.3,381.49 L304.8,381.50 L305.3,381.50 L305.8,381.51 L306.3,381.52 L306.8,381.53 L307.3,381.53 L307.8,381.54 L308.3,381.55 L308.8,381.55 L309.3,381.56 L309.8,381.57 L310.3,381.57 L310.8,381.58 L311.3,381.58 L311.8,381.59 L312.3,381.60 L312.8,381.60 L313.3,381.61 L313.8,381.61 L314.3,381.62 L314.8,381.63 L315.3,381.63 L315.8,381.64 L316.3,381.64 L316.8,381.65 L317.3,381.65 L317.8,381.66 L318.3,381.67 L318.8,381.67 L319.3,381.68 L319.8,381.68 L320.3,381.69 L320.8,381.69 L321.3,381.70 L321.8,381.70 L322.3,381.70 L322.8,381.71 L323.3,381.71 L323.8,381.72 L324.3,381.72 L324.8,381.73 L325.3,381.73 L325.8,381.73 L326.3,381.74 L326.8,381.74 L327.3,381.75 L327.8,381.75 L328.3,381.75 L328.8,381.76 L329.3,381.76 L329.8,381.76 L330.3,381.76 L330.8,381.77 L331.3,381.77 L331.8,381.77 L332.3,381.78 L332.8,381.78 L333.3,381.78 L333.8,381.78 L334.3,381.78 L334.8,381.79 L335.3,381.79 L335.8,381.79 L336.3,381.79 L336.8,381.79 L337.3,381.79 L337.8,381.80 L338.3,381.80 L338.8,381.80 L339.3,381.80 L339.8,381.80 L340.3,381.80 L340.8,381.80 L341.3,381.80 L341.8,381.80 L342.0,381.80" stroke="#0000ff" stroke-width="2.7" stroke-dasharray="0.01 3.95" stroke-linecap="round"/>
<path d="M87.4,381.80 L100.0,381.78 L100.5,381.80 L101.0,381.80 L101.5,381.80 L102.0,381.80 L102.5,381.80 L103.0,381.80 L103.5,381.80 L104.0,381.80 L104.5,381.80 L105.0,381.80 L105.5,381.80 L106.0,381.80 L106.5,381.80 L107.0,381.80 L107.5,381.80 L108.0,381.80 L108.5,381.80 L109.0,381.80 L109.5,381.80 L110.0,381.80 L110.5,381.80 L111.0,381.80 L111.5,381.80 L112.0,381.80 L112.5,381.80 L113.0,381.80 L113.5,381.80 L114.0,381.80 L114.5,381.80 L115.0,381.80 L115.5,381.80 L116.0,381.80 L116.5,381.80 L117.0,381.80 L117.5,381.76 L118.0,381.72 L118.5,381.68 L119.0,381.63 L119.5,381.58 L120.0,381.53 L120.5,381.48 L121.0,381.42 L121.5,381.36 L122.0,381.29 L122.5,381.22 L123.0,381.15 L123.5,381.08 L124.0,381.00 L124.5,380.92 L125.0,380.84 L125.5,380.75 L126.0,380.66 L126.5,380.56 L127.0,380.46 L127.5,380.36 L128.0,380.25 L128.5,380.15 L129.0,380.03 L129.5,379.91 L130.0,379.79 L130.5,379.67 L131.0,379.54 L131.5,379.41 L132.0,379.27 L132.5,379.13 L133.0,378.98 L133.5,378.83 L134.0,378.68 L134.5,378.52 L135.0,378.36 L135.5,378.19 L136.0,378.02 L136.5,377.84 L137.0,377.66 L137.5,377.48 L138.0,377.29 L138.5,377.09 L139.0,376.89 L139.5,376.69 L140.0,376.48 L140.5,376.27 L141.0,376.05 L141.5,375.82 L142.0,375.60 L142.5,375.36 L143.0,375.12 L143.5,374.88 L144.0,374.63 L144.5,374.38 L145.0,374.12 L145.5,373.85 L146.0,373.58 L146.5,373.31 L147.0,373.03 L147.5,372.74 L148.0,372.45 L148.5,372.15 L149.0,371.84 L149.5,371.54 L150.0,371.22 L150.5,370.90 L151.0,370.57 L151.5,370.24 L152.0,369.90 L152.5,369.56 L153.0,369.21 L153.5,368.85 L154.0,368.49 L154.5,368.12 L155.0,367.74 L155.5,367.36 L156.0,366.98 L156.5,366.59 L157.0,366.19 L157.5,365.78 L158.0,365.38 L158.5,364.96 L159.0,364.54 L159.5,364.11 L160.0,363.68 L160.5,363.24 L161.0,362.80 L161.5,362.35 L162.0,361.89 L162.5,361.43 L163.0,360.97 L163.5,360.50 L164.0,360.02 L164.5,359.54 L165.0,359.05 L165.5,358.56 L166.0,358.06 L166.5,357.56 L167.0,357.05 L167.5,356.53 L168.0,356.01 L168.5,355.49 L169.0,354.96 L169.5,354.42 L170.0,353.88 L170.5,353.34 L171.0,352.79 L171.5,352.23 L172.0,351.67 L172.5,351.11 L173.0,350.54 L173.5,349.96 L174.0,349.38 L174.5,348.80 L175.0,348.21 L175.5,347.61 L176.0,347.01 L176.5,346.41 L177.0,345.80 L177.5,345.19 L178.0,344.57 L178.5,343.94 L179.0,343.32 L179.5,342.68 L180.0,342.05 L180.5,341.41 L181.0,340.76 L181.5,340.11 L182.0,339.46 L182.5,338.80 L183.0,338.13 L183.5,337.46 L184.0,336.79 L184.5,336.11 L185.0,335.43 L185.5,334.75 L186.0,334.06 L186.5,333.36 L187.0,332.66 L187.5,331.96 L188.0,331.26 L188.5,330.54 L189.0,329.83 L189.5,329.11 L190.0,328.39 L190.5,327.66 L191.0,326.93 L191.5,326.19 L192.0,325.45 L192.5,324.70 L193.0,323.95 L193.5,323.20 L194.0,322.44 L194.5,321.68 L195.0,320.92 L195.5,320.15 L196.0,319.37 L196.5,318.59 L197.0,317.81 L197.5,317.03 L198.0,316.24 L198.5,315.44 L199.0,314.64 L199.5,313.84 L200.0,313.03 L200.5,312.22 L201.0,311.41 L201.5,310.59 L202.0,309.76 L202.5,308.93 L203.0,308.10 L203.5,307.27 L204.0,306.43 L204.5,305.58 L205.0,304.73 L205.5,303.88 L206.0,303.03 L206.5,302.17 L207.0,301.30 L207.5,300.43 L208.0,299.56 L208.5,298.69 L209.0,297.81 L209.5,296.92 L210.0,296.03 L210.5,295.14 L211.0,294.24 L211.5,293.34 L212.0,292.44 L212.5,291.53 L213.0,290.62 L213.5,289.70 L214.0,288.78 L214.5,287.86 L215.0,286.93 L215.5,286.00 L216.0,285.06 L216.5,284.12 L217.0,283.18 L217.5,282.23 L218.0,281.28 L218.5,280.32 L219.0,279.36 L219.5,278.40 L220.0,277.43 L220.5,276.46 L221.0,275.48 L221.5,274.50 L222.0,273.52 L222.5,272.53 L223.0,271.54 L223.5,270.54 L224.0,269.54 L224.5,268.54 L225.0,267.53 L225.5,266.51 L226.0,265.49 L226.5,264.47 L227.0,263.44 L227.5,262.41 L228.0,261.37 L228.5,260.33 L229.0,259.28 L229.5,258.23 L230.0,257.17 L230.5,256.11 L231.0,255.04 L231.5,253.97 L232.0,252.89 L232.5,251.80 L233.0,250.72 L233.5,249.62 L234.0,248.52 L234.5,247.42 L235.0,246.31 L235.5,245.19 L236.0,244.07 L236.5,242.94 L237.0,241.81 L237.5,240.67 L238.0,239.52 L238.5,238.37 L239.0,237.21 L239.5,236.05 L240.0,234.88 L240.5,233.71 L241.0,232.52 L241.5,231.34 L242.0,230.14 L242.5,228.94 L243.0,227.74 L243.5,226.52 L244.0,225.30 L244.5,224.08 L245.0,222.84 L245.5,221.60 L246.0,220.36 L246.5,219.11 L247.0,217.85 L247.5,216.58 L248.0,215.30 L248.5,214.02 L249.0,212.74 L249.5,211.44 L249.9,210.40 L250.4,211.40 L250.9,212.39 L251.4,213.38 L251.9,214.37 L252.4,215.35 L252.9,216.33 L253.4,217.30 L253.9,218.28 L254.4,219.25 L254.9,220.21 L255.4,221.18 L255.9,222.14 L256.4,223.10 L256.9,224.05 L257.4,225.01 L257.9,225.96 L258.4,226.91 L258.9,227.85 L259.4,228.80 L259.9,229.74 L260.4,230.68 L260.9,231.62 L261.4,232.56 L261.9,233.49 L262.4,234.42 L262.9,235.35 L263.4,236.28 L263.9,237.21 L264.4,238.13 L264.9,239.06 L265.4,239.98 L265.9,240.90 L266.4,241.82 L266.9,242.73 L267.4,243.64 L267.9,244.56 L268.4,245.47 L268.9,246.37 L269.4,247.28 L269.9,248.18 L270.4,249.09 L270.9,249.99 L271.4,250.88 L271.9,251.78 L272.4,252.67 L272.9,253.56 L273.4,254.45 L273.9,255.34 L274.4,256.22 L274.9,257.10 L275.4,257.98 L275.9,258.86 L276.4,259.73 L276.9,260.60 L277.4,261.47 L277.9,262.34 L278.4,263.20 L278.9,264.06 L279.4,264.92 L279.9,265.78 L280.4,266.63 L280.9,267.48 L281.4,268.32 L281.9,269.17 L282.4,270.01 L282.9,270.84 L283.4,271.67 L283.9,272.50 L284.4,273.33 L284.9,274.15 L285.4,274.97 L285.9,275.79 L286.4,276.60 L286.9,277.41 L287.4,278.21 L287.9,279.01 L288.4,279.81 L288.9,280.60 L289.4,281.39 L289.9,282.18 L290.4,282.96 L290.9,283.73 L291.4,284.51 L291.9,285.28 L292.4,286.04 L292.9,286.80 L293.4,287.56 L293.9,288.31 L294.4,289.05 L294.9,289.80 L295.4,290.53 L295.9,291.27 L296.4,292.00 L296.9,292.72 L297.4,293.44 L297.9,294.16 L298.4,294.87 L298.9,295.57 L299.4,296.27 L299.9,296.97 L300.4,297.66 L300.9,298.35 L301.4,299.03 L301.9,299.71 L302.4,300.38 L302.9,301.05 L303.4,301.71 L303.9,302.37 L304.4,303.02 L304.9,303.66 L305.4,304.31 L305.9,304.94 L306.4,305.58 L306.9,306.20 L307.4,306.83 L307.9,307.44 L308.4,308.06 L308.9,308.66 L309.4,309.26 L309.9,309.86 L310.4,310.45 L310.9,311.04 L311.4,311.62 L311.9,312.20 L312.4,312.77 L312.9,313.34 L313.4,313.90 L313.9,314.46 L314.4,315.01 L314.9,315.55 L315.4,316.10 L315.9,316.63 L316.4,317.16 L316.9,317.69 L317.4,318.21 L317.9,318.73 L318.4,319.24 L318.9,319.75 L319.4,320.25 L319.9,320.75 L320.4,321.24 L320.9,321.73 L321.4,322.21 L321.9,322.69 L322.4,323.16 L322.9,323.63 L323.4,324.09 L323.9,324.55 L324.4,325.00 L324.9,325.45 L325.4,325.90 L325.9,326.34 L326.4,326.77 L326.9,327.21 L327.4,327.63 L327.9,328.05 L328.4,328.47 L328.9,328.89 L329.4,329.29 L329.9,329.70 L330.4,330.10 L330.9,330.50 L331.4,330.89 L331.9,331.28 L332.4,331.66 L332.9,332.04 L333.4,332.41 L333.9,332.78 L334.4,333.15 L334.9,333.51 L335.4,333.87 L335.9,334.23 L336.4,334.58 L336.9,334.93 L337.4,335.27 L337.9,335.61 L338.4,335.94 L338.9,336.28 L339.4,336.60 L339.9,336.93 L340.0,336.99" stroke="#ff0000" stroke-width="1.6" stroke-dasharray="5.5 1.5 1.5 1.6"/>
<path d="M87.4,381.80 L87.9,381.80 L88.4,381.80 L88.9,381.80 L89.4,381.80 L89.9,381.80 L90.4,381.80 L90.9,381.80 L91.4,381.80 L91.9,381.80 L92.4,381.80 L92.9,381.80 L93.4,381.80 L93.9,381.80 L94.4,381.80 L94.9,381.80 L95.4,381.80 L95.9,381.80 L96.4,381.80 L96.9,381.80 L97.4,381.80 L97.9,381.80 L98.4,381.80 L98.9,381.80 L99.4,381.80 L99.9,381.80 L100.4,381.80 L100.9,381.80 L101.4,381.80 L101.9,381.80 L102.4,381.80 L102.9,381.80 L103.4,381.80 L103.9,381.80 L104.4,381.80 L104.9,381.80 L105.4,381.80 L105.9,381.80 L106.4,381.80 L106.9,381.80 L107.4,381.80 L107.9,381.80 L108.4,381.80 L108.9,381.80 L109.4,381.80 L109.9,381.80 L110.4,381.80 L110.9,381.80 L111.4,381.80 L111.9,381.80 L112.4,381.80 L112.9,381.80 L113.4,381.80 L113.9,381.80 L114.4,381.80 L114.9,381.80 L115.4,381.80 L115.9,381.80 L116.4,381.80 L116.9,381.80 L117.4,381.80 L117.9,381.80 L118.4,381.80 L118.9,381.80 L119.4,381.80 L119.9,381.80 L120.4,381.80 L120.9,381.80 L121.4,381.80 L121.9,381.80 L122.4,381.80 L122.9,381.80 L123.4,381.79 L123.9,381.79 L124.4,381.79 L124.9,381.79 L125.4,381.78 L125.9,381.78 L126.4,381.78 L126.9,381.77 L127.4,381.77 L127.9,381.77 L128.4,381.76 L128.9,381.76 L129.4,381.76 L129.9,381.75 L130.4,381.75 L130.9,381.74 L131.4,381.73 L131.9,381.72 L132.4,381.71 L132.9,381.70 L133.4,381.68 L133.9,381.66 L134.4,381.65 L134.9,381.63 L135.4,381.61 L135.9,381.59 L136.4,381.57 L136.9,381.55 L137.4,381.52 L137.9,381.50 L138.4,381.48 L138.9,381.45 L139.4,381.43 L139.9,381.40 L140.4,381.38 L140.9,381.35 L141.4,381.32 L141.9,381.29 L142.4,381.26 L142.9,381.22 L143.4,381.19 L143.9,381.15 L144.4,381.11 L144.9,381.07 L145.4,381.03 L145.9,380.98 L146.4,380.94 L146.9,380.89 L147.4,380.85 L147.9,380.80 L148.4,380.75 L148.9,380.71 L149.4,380.66 L149.9,380.61 L150.4,380.56 L150.9,380.51 L151.4,380.46 L151.9,380.40 L152.4,380.35 L152.9,380.29 L153.4,380.23 L153.9,380.17 L154.4,380.11 L154.9,380.05 L155.4,379.99 L155.9,379.92 L156.4,379.86 L156.9,379.79 L157.4,379.73 L157.9,379.67 L158.4,379.60 L158.9,379.54 L159.4,379.48 L159.9,379.41 L160.4,379.35 L160.9,379.29 L161.4,379.22 L161.9,379.16 L162.4,379.10 L162.9,379.03 L163.4,378.97 L163.9,378.91 L164.4,378.84 L164.9,378.78 L165.4,378.71 L165.9,378.65 L166.4,378.58 L166.9,378.51 L167.4,378.45 L167.9,378.38 L168.4,378.31 L168.9,378.25 L169.4,378.18 L169.9,378.11 L170.4,378.05 L170.9,377.98 L171.4,377.92 L171.9,377.85 L172.4,377.79 L172.9,377.72 L173.4,377.66 L173.9,377.59 L174.4,377.53 L174.9,377.46 L175.4,377.40 L175.9,377.33 L176.4,377.26 L176.9,377.19 L177.4,377.12 L177.9,377.04 L178.4,376.96 L178.9,376.88 L179.4,376.80 L179.9,376.72 L180.4,376.63 L180.9,376.54 L181.4,376.44 L181.9,376.34 L182.4,376.23 L182.9,376.12 L183.4,376.01 L183.9,375.90 L184.4,375.78 L184.9,375.66 L185.4,375.54 L185.9,375.42 L186.4,375.29 L186.9,375.17 L187.4,375.04 L187.9,374.92 L188.4,374.79 L188.9,374.67 L189.4,374.55 L189.9,374.42 L190.4,374.30 L190.9,374.18 L191.4,374.07 L191.9,373.95 L192.4,373.83 L192.9,373.71 L193.4,373.59 L193.9,373.48 L194.4,373.36 L194.9,373.24 L195.4,373.12 L195.9,373.00 L196.4,372.88 L196.9,372.75 L197.4,372.63 L197.9,372.50 L198.4,372.37 L198.9,372.24 L199.4,372.10 L199.9,371.97 L200.4,371.83 L200.9,371.68 L201.4,371.54 L201.9,371.39 L202.4,371.23 L202.9,371.07 L203.4,370.91 L203.9,370.74 L204.4,370.56 L204.9,370.38 L205.4,370.19 L205.9,370.00 L206.4,369.80 L206.9,369.60 L207.4,369.40 L207.9,369.19 L208.4,368.99 L208.9,368.77 L209.4,368.56 L209.9,368.34 L210.4,368.13 L210.9,367.91 L211.4,367.69 L211.9,367.47 L212.4,367.24 L212.9,367.02 L213.4,366.80 L213.9,366.58 L214.4,366.36 L214.9,366.14 L215.4,365.93 L215.9,365.71 L216.4,365.49 L216.9,365.27 L217.4,365.04 L217.9,364.82 L218.4,364.59 L218.9,364.37 L219.4,364.14 L219.9,363.90 L220.4,363.67 L220.9,363.43 L221.4,363.19 L221.9,362.95 L222.4,362.70 L222.9,362.45 L223.4,362.20 L223.9,361.95 L224.4,361.70 L224.9,361.45 L225.4,361.19 L225.9,360.93 L226.4,360.66 L226.9,360.39 L227.4,360.12 L227.9,359.84 L228.4,359.55 L228.9,359.25 L229.4,358.95 L229.9,358.64 L230.4,358.31 L230.9,357.98 L231.4,357.64 L231.9,357.29 L232.4,356.94 L232.9,356.57 L233.4,356.19 L233.9,355.81 L234.4,355.42 L234.9,355.02 L235.4,354.62 L235.9,354.20 L236.4,353.78 L236.9,353.36 L237.4,352.93 L237.9,352.49 L238.4,352.04 L238.9,351.58 L239.4,351.11 L239.9,350.63 L240.4,350.14 L240.9,349.63 L241.4,349.11 L241.9,348.57 L242.4,348.01 L242.9,347.44 L243.4,346.84 L243.9,346.20 L244.4,345.53 L244.9,344.84 L245.4,344.11 L245.9,343.37 L246.4,342.61 L246.9,341.85 L247.4,341.05 L247.9,340.24 L248.4,339.39 L248.9,338.53 L249.4,337.64 L249.7,337.10 L250.2,338.22 L250.7,339.36 L251.2,340.51 L251.7,341.66 L252.2,342.84 L252.7,344.02 L253.2,345.22 L253.7,346.44 L254.2,347.73 L254.7,349.06 L255.2,350.41 L255.7,351.76 L256.2,353.08 L256.7,354.34 L257.2,355.52 L257.7,356.60 L258.2,357.57 L258.7,358.48 L259.2,359.34 L259.7,360.16 L260.2,360.95 L260.7,361.71 L261.2,362.46 L261.7,363.20 L262.2,363.95 L262.7,364.71 L263.2,365.46 L263.7,366.20 L264.2,366.90 L264.7,367.56 L265.2,368.15 L265.7,368.74 L266.2,369.31 L266.7,369.86 L267.2,370.39 L267.7,370.90 L268.2,371.38 L268.7,371.83 L269.2,372.23 L269.7,372.60 L270.2,372.93 L270.7,373.23 L271.2,373.53 L271.7,373.82 L272.2,374.10 L272.7,374.36 L273.2,374.62 L273.7,374.87 L274.2,375.11 L274.7,375.34 L275.2,375.56 L275.7,375.77 L276.2,375.97 L276.7,376.16 L277.2,376.35 L277.7,376.52 L278.2,376.68 L278.7,376.84 L279.2,376.98 L279.7,377.12 L280.2,377.25 L280.7,377.37 L281.2,377.49 L281.7,377.61 L282.2,377.72 L282.7,377.83 L283.2,377.94 L283.7,378.04 L284.2,378.13 L284.7,378.23 L285.2,378.32 L285.7,378.41 L286.2,378.50 L286.7,378.58 L287.2,378.66 L287.7,378.74 L288.2,378.82 L288.7,378.89 L289.2,378.96 L289.7,379.03 L290.2,379.10 L290.7,379.17 L291.2,379.23 L291.7,379.30 L292.2,379.36 L292.7,379.42 L293.2,379.49 L293.7,379.55 L294.2,379.61 L294.7,379.67 L295.2,379.73 L295.7,379.79 L296.2,379.85 L296.7,379.90 L297.2,379.96 L297.7,380.01 L298.2,380.06 L298.7,380.12 L299.2,380.17 L299.7,380.21 L300.2,380.26 L300.7,380.31 L301.2,380.35 L301.7,380.39 L302.2,380.43 L302.7,380.46 L303.2,380.50 L303.7,380.53 L304.2,380.56 L304.7,380.59 L305.2,380.61 L305.7,380.63 L306.2,380.66 L306.7,380.68 L307.2,380.70 L307.7,380.72 L308.2,380.75 L308.7,380.77 L309.2,380.79 L309.7,380.81 L310.2,380.83 L310.7,380.85 L311.2,380.87 L311.7,380.90 L312.2,380.92 L312.7,380.94 L313.2,380.96 L313.7,380.98 L314.2,381.00 L314.7,381.02 L315.2,381.03 L315.7,381.05 L316.2,381.07 L316.7,381.09 L317.2,381.11 L317.7,381.13 L318.2,381.14 L318.7,381.16 L319.2,381.18 L319.7,381.20 L320.2,381.21 L320.7,381.23 L321.2,381.25 L321.7,381.26 L322.2,381.28 L322.7,381.29 L323.2,381.31 L323.7,381.32 L324.2,381.33 L324.7,381.35 L325.2,381.36 L325.7,381.38 L326.2,381.39 L326.7,381.40 L327.2,381.41 L327.7,381.42 L328.2,381.44 L328.7,381.45 L329.2,381.46 L329.7,381.47 L330.2,381.48 L330.7,381.49 L331.2,381.50 L331.7,381.51 L332.2,381.52 L332.7,381.52 L333.2,381.53 L333.7,381.54 L334.2,381.55 L334.7,381.55 L335.2,381.56 L335.7,381.56 L336.2,381.57 L336.7,381.57 L337.2,381.58 L337.7,381.58 L338.2,381.59 L338.7,381.59 L339.2,381.59 L339.7,381.60 L340.2,381.60 L340.7,381.60 L341.2,381.60 L341.7,381.60 L342.0,381.60" stroke="#ff0000" stroke-width="1.6" stroke-dasharray="5.5 1.5 1.5 1.6"/>
</g>
<!-- frame -->
<g stroke="#000" stroke-width="1.5" fill="none">
<path d="M81.6,387.75 V161.2 H345"/>
<line x1="80.85" y1="387.0" x2="345" y2="387.0"/>
</g>
<g stroke="#000" stroke-width="1.45" fill="none">
<line x1="87.25" y1="387.0" x2="87.25" y2="392.5"/>
<line x1="87.25" y1="161.2" x2="87.25" y2="155.7"/>
<line x1="97.21" y1="387.0" x2="97.21" y2="390.1"/>
<line x1="97.21" y1="161.2" x2="97.21" y2="158.1"/>
<line x1="107.17" y1="387.0" x2="107.17" y2="390.1"/>
<line x1="107.17" y1="161.2" x2="107.17" y2="158.1"/>
<line x1="117.13" y1="387.0" x2="117.13" y2="390.1"/>
<line x1="117.13" y1="161.2" x2="117.13" y2="158.1"/>
<line x1="127.09" y1="387.0" x2="127.09" y2="390.1"/>
<line x1="127.09" y1="161.2" x2="127.09" y2="158.1"/>
<line x1="137.05" y1="387.0" x2="137.05" y2="392.5"/>
<line x1="137.05" y1="161.2" x2="137.05" y2="155.7"/>
<line x1="147.01" y1="387.0" x2="147.01" y2="390.1"/>
<line x1="147.01" y1="161.2" x2="147.01" y2="158.1"/>
<line x1="156.97" y1="387.0" x2="156.97" y2="390.1"/>
<line x1="156.97" y1="161.2" x2="156.97" y2="158.1"/>
<line x1="166.93" y1="387.0" x2="166.93" y2="390.1"/>
<line x1="166.93" y1="161.2" x2="166.93" y2="158.1"/>
<line x1="176.89" y1="387.0" x2="176.89" y2="390.1"/>
<line x1="176.89" y1="161.2" x2="176.89" y2="158.1"/>
<line x1="186.85" y1="387.0" x2="186.85" y2="392.5"/>
<line x1="186.85" y1="161.2" x2="186.85" y2="155.7"/>
<line x1="196.81" y1="387.0" x2="196.81" y2="390.1"/>
<line x1="196.81" y1="161.2" x2="196.81" y2="158.1"/>
<line x1="206.77" y1="387.0" x2="206.77" y2="390.1"/>
<line x1="206.77" y1="161.2" x2="206.77" y2="158.1"/>
<line x1="216.73" y1="387.0" x2="216.73" y2="390.1"/>
<line x1="216.73" y1="161.2" x2="216.73" y2="158.1"/>
<line x1="226.69" y1="387.0" x2="226.69" y2="390.1"/>
<line x1="226.69" y1="161.2" x2="226.69" y2="158.1"/>
<line x1="236.65" y1="387.0" x2="236.65" y2="392.5"/>
<line x1="236.65" y1="161.2" x2="236.65" y2="155.7"/>
<line x1="246.61" y1="387.0" x2="246.61" y2="390.1"/>
<line x1="246.61" y1="161.2" x2="246.61" y2="158.1"/>
<line x1="256.57" y1="387.0" x2="256.57" y2="390.1"/>
<line x1="256.57" y1="161.2" x2="256.57" y2="158.1"/>
<line x1="266.53" y1="387.0" x2="266.53" y2="390.1"/>
<line x1="266.53" y1="161.2" x2="266.53" y2="158.1"/>
<line x1="276.49" y1="387.0" x2="276.49" y2="390.1"/>
<line x1="276.49" y1="161.2" x2="276.49" y2="158.1"/>
<line x1="286.45" y1="387.0" x2="286.45" y2="392.5"/>
<line x1="286.45" y1="161.2" x2="286.45" y2="155.7"/>
<line x1="296.41" y1="387.0" x2="296.41" y2="390.1"/>
<line x1="296.41" y1="161.2" x2="296.41" y2="158.1"/>
<line x1="306.37" y1="387.0" x2="306.37" y2="390.1"/>
<line x1="306.37" y1="161.2" x2="306.37" y2="158.1"/>
<line x1="316.33" y1="387.0" x2="316.33" y2="390.1"/>
<line x1="316.33" y1="161.2" x2="316.33" y2="158.1"/>
<line x1="326.29" y1="387.0" x2="326.29" y2="390.1"/>
<line x1="326.29" y1="161.2" x2="326.29" y2="158.1"/>
<line x1="336.25" y1="387.0" x2="336.25" y2="392.5"/>
<line x1="336.25" y1="161.2" x2="336.25" y2="155.7"/>
<line x1="81.6" y1="381.50" x2="76.1" y2="381.50"/>
<line x1="81.6" y1="370.75" x2="78.5" y2="370.75"/>
<line x1="81.6" y1="360.00" x2="78.5" y2="360.00"/>
<line x1="81.6" y1="349.25" x2="78.5" y2="349.25"/>
<line x1="81.6" y1="338.50" x2="76.1" y2="338.50"/>
<line x1="81.6" y1="327.75" x2="78.5" y2="327.75"/>
<line x1="81.6" y1="317.00" x2="78.5" y2="317.00"/>
<line x1="81.6" y1="306.25" x2="78.5" y2="306.25"/>
<line x1="81.6" y1="295.50" x2="76.1" y2="295.50"/>
<line x1="81.6" y1="284.75" x2="78.5" y2="284.75"/>
<line x1="81.6" y1="274.00" x2="78.5" y2="274.00"/>
<line x1="81.6" y1="263.25" x2="78.5" y2="263.25"/>
<line x1="81.6" y1="252.50" x2="76.1" y2="252.50"/>
<line x1="81.6" y1="241.75" x2="78.5" y2="241.75"/>
<line x1="81.6" y1="231.00" x2="78.5" y2="231.00"/>
<line x1="81.6" y1="220.25" x2="78.5" y2="220.25"/>
<line x1="81.6" y1="209.50" x2="76.1" y2="209.50"/>
<line x1="81.6" y1="198.75" x2="78.5" y2="198.75"/>
<line x1="81.6" y1="188.00" x2="78.5" y2="188.00"/>
<line x1="81.6" y1="177.25" x2="78.5" y2="177.25"/>
<line x1="81.6" y1="166.50" x2="76.1" y2="166.50"/>
</g>
<g class="t" font-size="14.4"><text x="87.2" y="406.8" text-anchor="middle">0.0</text><text x="137.1" y="406.8" text-anchor="middle">0.5</text><text x="186.8" y="406.8" text-anchor="middle">1.0</text><text x="236.6" y="406.8" text-anchor="middle">1.5</text><text x="286.4" y="406.8" text-anchor="middle">2.0</text><text x="336.2" y="406.8" text-anchor="middle">2.5</text><text x="74.3" y="386.4" text-anchor="end">0.0</text><text x="74.3" y="343.4" text-anchor="end">0.1</text><text x="74.3" y="300.4" text-anchor="end">0.2</text><text x="74.3" y="257.4" text-anchor="end">0.3</text><text x="74.3" y="214.4" text-anchor="end">0.4</text><text x="74.3" y="171.4" text-anchor="end">0.5</text></g>
<!-- legend -->
<g class="t">
<text x="101.00" y="187.30" font-size="14">p</text><text x="112.94" y="187.30" font-size="14">V</text><text x="122.48" y="191.90" font-size="8.2" class="ss">0</text><text x="128.30" y="187.30" font-size="14">/</text><text x="136.73" y="187.30" font-size="14">(</text><text x="143.65" y="187.30" font-size="14">N</text><text x="158.76" y="187.30" font-size="14">k</text><text x="168.33" y="191.90" font-size="8.2" class="ss">B</text><text x="174.59" y="187.30" font-size="14">T</text><text x="183.03" y="191.90" font-size="8.2" class="ss">D</text><text x="185.86" y="181.90" font-size="8.8" class="ss">0</text><text x="191.72" y="187.30" font-size="14">)</text><text x="198.62" y="187.30" font-size="14">:</text>
<g font-size="14">
<text x="176.8" y="208.2" text-anchor="end">-5.0</text>
<text x="176.8" y="225.7" text-anchor="end">0.0</text>
<text x="176.8" y="243.2" text-anchor="end">10.0</text>
</g>
</g>
<line x1="108.8" y1="203.5" x2="139" y2="203.5" stroke="#0000ff" stroke-width="2.5" stroke-dasharray="0.01 4.15" stroke-linecap="round"/>
<line x1="108.1" y1="221.2" x2="141.5" y2="221.2" stroke="#000" stroke-width="1.5"/>
<line x1="108.1" y1="238.7" x2="141.3" y2="238.7" stroke="#ff0000" stroke-width="1.7" stroke-dasharray="5.5 1.5 1.5 1.6"/>
<!-- parameters -->
<g class="t">
<text x="90.53" y="271.10" font-size="13">D</text><text x="103.40" y="271.10" font-size="13">/</text><text x="111.39" y="271.10" font-size="13">(</text><text x="116.52" y="271.10" font-size="13">k</text><text x="125.97" y="275.40" font-size="7.7" class="ss">B</text><text x="132.51" y="271.10" font-size="13">T</text><text x="140.37" y="275.40" font-size="7.7" class="ss">D</text><text x="142.68" y="266.10" font-size="8.2" class="ss">0</text><text x="148.92" y="271.10" font-size="13">)</text><text x="156.37" y="271.10" font-size="13">=</text><text x="168.51" y="271.10" font-size="13">10.0</text>
<text x="90.70" y="293.20" font-size="13">J</text><text x="100.10" y="293.20" font-size="13">/</text><text x="108.19" y="293.20" font-size="13">(</text><text x="113.32" y="293.20" font-size="13">k</text><text x="122.97" y="297.50" font-size="7.7" class="ss">B</text><text x="131.21" y="293.20" font-size="13">T</text><text x="139.37" y="297.50" font-size="7.7" class="ss">D</text><text x="141.78" y="288.20" font-size="8.2" class="ss">0</text><text x="148.42" y="293.20" font-size="13">)</text><text x="155.87" y="293.20" font-size="13">=</text><text x="168.21" y="293.20" font-size="13">1.0</text>
<g font-size="13" word-spacing="0.6">
<text x="90.45" y="315.00">q = 1.0</text>
<text x="90.6" y="337.2"><tspan font-size="14" style="stroke:none">&#945;</tspan> = 4.0</text>
<text x="90.34" y="359.00">n = 6</text>
</g>
<text x="266.70" y="227.00" font-size="13">h</text><text x="277.20" y="227.00" font-size="13">/</text><text x="283.29" y="227.00" font-size="13">(</text><text x="288.02" y="227.00" font-size="13">k</text><text x="296.97" y="231.50" font-size="7.7" class="ss">B</text><text x="302.91" y="227.00" font-size="13">T</text><text x="310.27" y="231.50" font-size="7.7" class="ss">D</text><text x="312.18" y="222.40" font-size="8.2" class="ss">0</text><text x="318.72" y="227.00" font-size="13">)</text><text x="327.17" y="227.00" font-size="13">=</text><text x="337.81" y="227.00" font-size="13">1.0</text>
<text x="276.00" y="371.30" font-size="13">h</text><text x="286.50" y="371.30" font-size="13">/</text><text x="293.49" y="371.30" font-size="13">(</text><text x="298.12" y="371.30" font-size="13">k</text><text x="307.07" y="375.80" font-size="7.7" class="ss">B</text><text x="312.41" y="371.30" font-size="13">T</text><text x="319.57" y="375.80" font-size="7.7" class="ss">D</text><text x="321.48" y="366.70" font-size="8.2" class="ss">0</text><text x="327.72" y="371.30" font-size="13">)</text><text x="335.87" y="371.30" font-size="13">=</text>
</g>
<!-- x axis title -->
<g class="t"><text x="217.96" y="431.50" font-size="15">T</text><text x="230.90" y="431.50" font-size="15">/</text><text x="238.26" y="431.50" font-size="15">T</text><text x="247.08" y="436.60" font-size="8.8" class="ss">D</text><text x="250.24" y="425.80" font-size="9.2" class="ss">0</text></g>
<!-- y axis title -->
<g class="t" transform="rotate(-90)"><text x="-337.14" y="32.00" font-size="15" style="fill:#777;stroke:none">|</text><text transform="translate(-331.40,32.00) scale(0.9,1)" font-size="15">Δ</text><text x="-322.48" y="32.00" font-size="15">S</text><text x="-310.68" y="35.40" font-size="7.8" class="ss">T</text><text x="-306.10" y="35.40" font-size="7.8" class="ss">,</text><text x="-303.50" y="35.40" font-size="7.8" class="ss">p</text><text x="-295.54" y="32.00" font-size="15">|</text><text x="-288.50" y="32.00" font-size="15">/</text><text x="-280.53" y="32.00" font-size="15">(</text><text x="-272.43" y="32.00" font-size="15">N</text><text x="-259.31" y="32.00" font-size="15">k</text><text x="-248.44" y="36.60" font-size="9.0" class="ss">B</text><text x="-240.59" y="32.00" font-size="15">)</text></g>
</svg>
</body></html>
